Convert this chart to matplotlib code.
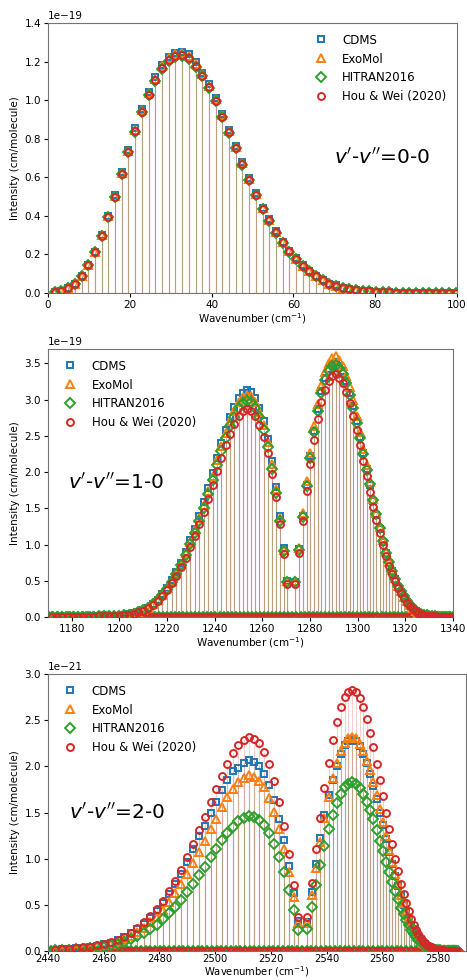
import matplotlib.pyplot as plt
import numpy as np

# ---- v'-v''=0-0 (units of 1e-19 cm/molecule) ----
pos_00 = [1.64, 3.28, 4.92, 6.56, 8.20, 9.84, 11.48, 13.12, 14.76, 16.40,
          18.04, 19.68, 21.32, 22.96, 24.60, 26.24, 27.88, 29.52, 31.16, 32.79,
          34.43, 36.07, 37.71, 39.35, 40.99, 42.62, 44.26, 45.90, 47.54, 49.17,
          50.81, 52.45, 54.08, 55.72, 57.35, 58.99, 60.62, 62.26, 63.89, 65.52,
          67.16, 68.79, 70.42, 72.05, 73.68, 75.31, 76.94, 78.57, 80.20, 81.83,
          83.46, 85.08, 86.71, 88.34, 89.96, 91.58, 93.21, 94.83, 96.45, 98.07, 99.69]
cdms_00 = [0.007, 0.012, 0.024, 0.049, 0.087, 0.145, 0.215, 0.302, 0.401, 0.508,
           0.626, 0.742, 0.853, 0.955, 1.044, 1.120, 1.183, 1.225, 1.247, 1.251,
           1.237, 1.196, 1.143, 1.082, 1.012, 0.928, 0.845, 0.763, 0.677, 0.595,
           0.517, 0.443, 0.382, 0.319, 0.266, 0.219, 0.179, 0.143, 0.114, 0.087,
           0.067, 0.049, 0.039, 0.028, 0.021, 0.016, 0.012, 0.009, 0.006, 0.005,
           0.003, 0.002, 0.0016, 0.001, 0.0008, 0.0006, 0.0004, 0.0003, 0.0002, 0.0002, 0.0001]
exomol_00 = [0.007, 0.012, 0.024, 0.048, 0.087, 0.144, 0.214, 0.300, 0.398, 0.504,
             0.622, 0.737, 0.847, 0.949, 1.037, 1.112, 1.175, 1.217, 1.239, 1.243,
             1.229, 1.187, 1.135, 1.075, 1.005, 0.921, 0.840, 0.758, 0.672, 0.591,
             0.513, 0.439, 0.379, 0.317, 0.264, 0.218, 0.177, 0.142, 0.113, 0.087,
             0.067, 0.048, 0.038, 0.028, 0.021, 0.016, 0.012, 0.009, 0.006, 0.005,
             0.003, 0.002, 0.0016, 0.001, 0.0008, 0.0006, 0.0004, 0.0003, 0.0002, 0.0002, 0.0001]
hitran_00 = [0.007, 0.012, 0.024, 0.048, 0.086, 0.143, 0.211, 0.297, 0.394, 0.499,
             0.615, 0.729, 0.837, 0.938, 1.026, 1.100, 1.162, 1.203, 1.225, 1.229,
             1.215, 1.174, 1.123, 1.063, 0.994, 0.911, 0.831, 0.750, 0.665, 0.584,
             0.507, 0.435, 0.375, 0.313, 0.261, 0.215, 0.175, 0.141, 0.112, 0.086,
             0.066, 0.048, 0.038, 0.028, 0.021, 0.016, 0.012, 0.009, 0.006, 0.005,
             0.003, 0.002, 0.0016, 0.001, 0.0008, 0.0006, 0.0004, 0.0003, 0.0002, 0.0002, 0.0001]
hou_00 = [0.007, 0.012, 0.024, 0.048, 0.086, 0.143, 0.212, 0.298, 0.395, 0.500,
          0.617, 0.731, 0.840, 0.941, 1.029, 1.103, 1.166, 1.207, 1.229, 1.233,
          1.219, 1.178, 1.126, 1.066, 0.997, 0.914, 0.833, 0.752, 0.667, 0.586,
          0.509, 0.436, 0.376, 0.314, 0.262, 0.216, 0.176, 0.141, 0.112, 0.086,
          0.066, 0.048, 0.038, 0.028, 0.021, 0.016, 0.012, 0.009, 0.006, 0.005,
          0.003, 0.002, 0.0016, 0.001, 0.0008, 0.0006, 0.0004, 0.0003, 0.0002, 0.0002, 0.0001]

# ---- v'-v''=1-0 (units of 1e-19 cm/molecule), P(52)..P(1) then R(0)..R(50) ----
pos_10_p = [1171.53, 1173.76, 1175.99, 1178.20, 1180.40, 1182.59, 1184.76, 1186.93, 1189.08, 1191.22,
            1193.35, 1195.47, 1197.58, 1199.67, 1201.76, 1203.83, 1205.89, 1207.93, 1209.97, 1211.99,
            1214.00, 1216.00, 1217.99, 1219.97, 1221.93, 1223.89, 1225.83, 1227.75, 1229.67, 1231.58,
            1233.47, 1235.35, 1237.22, 1239.08, 1240.93, 1242.76, 1244.59, 1246.40, 1248.20, 1249.99,
            1251.76, 1253.53, 1255.28, 1257.02, 1258.75, 1260.46, 1262.17, 1263.86, 1265.54, 1267.21,
            1268.87, 1270.52]
pos_10_r = [1273.77, 1275.38, 1276.98, 1278.57, 1280.14, 1281.71, 1283.26, 1284.80, 1286.33, 1287.84,
            1289.35, 1290.84, 1292.32, 1293.79, 1295.25, 1296.69, 1298.13, 1299.55, 1300.96, 1302.36,
            1303.74, 1305.12, 1306.48, 1307.83, 1309.17, 1310.50, 1311.81, 1313.12, 1314.41, 1315.69,
            1316.96, 1318.21, 1319.46, 1320.69, 1321.91, 1323.12, 1324.32, 1325.51, 1326.68, 1327.84,
            1328.99, 1330.13, 1331.26, 1332.37, 1333.48, 1334.57, 1335.65, 1336.71, 1337.77, 1338.82,
            1339.84]
cdms_10_p = [0.001, 0.002, 0.002, 0.002, 0.003, 0.003, 0.004, 0.005, 0.007, 0.008,
             0.010, 0.012, 0.015, 0.020, 0.026, 0.036, 0.050, 0.071, 0.095, 0.131,
             0.181, 0.240, 0.316, 0.403, 0.512, 0.621, 0.752, 0.894, 1.057, 1.221,
             1.395, 1.581, 1.777, 1.984, 2.202, 2.398, 2.583, 2.758, 2.899, 3.019,
             3.096, 3.128, 3.107, 3.030, 2.889, 2.703, 2.463, 2.147, 1.799, 1.395,
             0.948, 0.501]
cdms_10_r = [0.483, 0.935, 1.397, 1.827, 2.216, 2.573, 2.867, 3.119, 3.297, 3.423,
             3.497, 3.518, 3.465, 3.392, 3.255, 3.098, 2.919, 2.709, 2.489, 2.268,
             2.048, 1.817, 1.596, 1.407, 1.218, 1.040, 0.882, 0.746, 0.630, 0.525,
             0.420, 0.347, 0.273, 0.210, 0.158, 0.116, 0.084, 0.058, 0.042, 0.029,
             0.021, 0.015, 0.011, 0.007, 0.005, 0.004, 0.003, 0.002, 0.002, 0.001, 0.001]
exomol_10_p = [0.001, 0.002, 0.002, 0.002, 0.003, 0.003, 0.004, 0.005, 0.006, 0.007,
               0.010, 0.012, 0.015, 0.019, 0.026, 0.035, 0.049, 0.070, 0.093, 0.128,
               0.178, 0.235, 0.310, 0.396, 0.503, 0.610, 0.738, 0.877, 1.038, 1.198,
               1.370, 1.552, 1.744, 1.947, 2.161, 2.354, 2.536, 2.707, 2.846, 2.964,
               3.039, 3.071, 3.050, 2.975, 2.836, 2.654, 2.418, 2.108, 1.766, 1.370,
               0.931, 0.492]
exomol_10_r = [0.495, 0.957, 1.430, 1.871, 2.268, 2.634, 2.935, 3.193, 3.376, 3.505,
               3.580, 3.601, 3.548, 3.472, 3.333, 3.171, 2.989, 2.774, 2.548, 2.322,
               2.096, 1.860, 1.634, 1.441, 1.247, 1.064, 0.903, 0.763, 0.645, 0.538,
               0.430, 0.355, 0.280, 0.215, 0.161, 0.118, 0.086, 0.059, 0.043, 0.030,
               0.022, 0.015, 0.011, 0.008, 0.005, 0.004, 0.003, 0.002, 0.002, 0.001, 0.001]
hitran_10_p = [0.001, 0.002, 0.002, 0.002, 0.003, 0.003, 0.004, 0.005, 0.006, 0.007,
               0.009, 0.011, 0.015, 0.019, 0.025, 0.034, 0.048, 0.068, 0.090, 0.125,
               0.173, 0.229, 0.302, 0.385, 0.489, 0.593, 0.718, 0.853, 1.009, 1.165,
               1.331, 1.508, 1.695, 1.893, 2.101, 2.288, 2.465, 2.631, 2.766, 2.881,
               2.954, 2.985, 2.964, 2.891, 2.756, 2.579, 2.350, 2.049, 1.716, 1.331,
               0.905, 0.478]
hitran_10_r = [0.478, 0.926, 1.383, 1.810, 2.194, 2.548, 2.839, 3.089, 3.266, 3.390,
               3.463, 3.484, 3.432, 3.359, 3.224, 3.068, 2.891, 2.683, 2.465, 2.246,
               2.028, 1.834, 1.611, 1.420, 1.230, 1.049, 0.890, 0.753, 0.636, 0.530,
               0.424, 0.363, 0.286, 0.220, 0.165, 0.121, 0.088, 0.061, 0.044, 0.031,
               0.022, 0.017, 0.012, 0.008, 0.006, 0.005, 0.004, 0.002, 0.002, 0.001, 0.001]
hou_10_p = [0.001, 0.002, 0.002, 0.002, 0.003, 0.003, 0.004, 0.005, 0.006, 0.007,
            0.009, 0.011, 0.014, 0.018, 0.024, 0.033, 0.046, 0.065, 0.087, 0.120,
            0.166, 0.220, 0.290, 0.370, 0.470, 0.570, 0.690, 0.820, 0.970, 1.120,
            1.280, 1.450, 1.630, 1.820, 2.020, 2.200, 2.370, 2.530, 2.660, 2.770,
            2.840, 2.870, 2.850, 2.780, 2.650, 2.480, 2.260, 1.970, 1.650, 1.280,
            0.870, 0.460]
hou_10_r = [0.460, 0.890, 1.330, 1.740, 2.110, 2.450, 2.730, 2.970, 3.140, 3.260,
            3.330, 3.350, 3.300, 3.230, 3.100, 2.950, 2.780, 2.580, 2.370, 2.160,
            1.950, 1.730, 1.520, 1.340, 1.160, 0.990, 0.840, 0.710, 0.600, 0.500,
            0.400, 0.330, 0.260, 0.200, 0.150, 0.110, 0.080, 0.055, 0.040, 0.028,
            0.020, 0.014, 0.010, 0.007, 0.005, 0.004, 0.003, 0.002, 0.002, 0.001, 0.001]
# very weak (hot band) lines sitting on the baseline
weak_10 = [1170.6, 1172.3, 1174.0, 1175.7, 1177.4, 1179.1, 1180.8, 1182.5, 1184.2, 1185.9,
           1187.6, 1189.3, 1191.0, 1192.7, 1194.4, 1196.1, 1197.8, 1199.5, 1201.2, 1202.9,
           1204.6, 1206.3, 1208.0, 1209.7, 1211.4, 1213.1, 1214.8, 1216.5, 1218.2, 1219.9,
           1221.6, 1223.3, 1225.0, 1226.7, 1228.4, 1230.1, 1231.8, 1233.5, 1235.2, 1236.9,
           1238.6, 1240.3, 1242.0, 1243.7, 1245.4, 1247.1, 1248.8, 1250.5, 1252.2, 1253.9,
           1255.6, 1257.3, 1259.0, 1260.7, 1262.4, 1264.1, 1265.8, 1267.5, 1269.2, 1270.9,
           1272.6, 1274.3, 1276.0, 1277.7, 1279.4, 1281.1, 1282.8, 1284.5, 1286.2, 1287.9,
           1289.6, 1291.3, 1293.0, 1294.7, 1296.4, 1298.1, 1299.8, 1301.5, 1303.2, 1304.9,
           1306.6, 1308.3, 1310.0, 1311.7, 1313.4, 1315.1, 1316.8, 1318.5, 1320.2, 1321.9,
           1323.6, 1325.3, 1327.0, 1328.7, 1330.4, 1332.1, 1333.8, 1335.5, 1337.2, 1338.9]

# ---- v'-v''=2-0 (units of 1e-21 cm/molecule), P(42)..P(1) then R(0)..R(60) ----
pos_20_p = [2442.44, 2445.05, 2447.62, 2450.18, 2452.71, 2455.22, 2457.70, 2460.16, 2462.60, 2465.01,
            2467.40, 2469.77, 2472.11, 2474.43, 2476.72, 2478.99, 2481.24, 2483.47, 2485.67, 2487.84,
            2490.00, 2492.13, 2494.23, 2496.31, 2498.37, 2500.41, 2502.42, 2504.41, 2506.37, 2508.31,
            2510.23, 2512.13, 2514.00, 2515.84, 2517.67, 2519.47, 2521.24, 2522.99, 2524.72, 2526.43,
            2528.11, 2529.77]
pos_20_r = [2533.01, 2534.60, 2536.16, 2537.70, 2539.22, 2540.71, 2542.18, 2543.62, 2545.05, 2546.44,
            2547.82, 2549.17, 2550.50, 2551.80, 2553.08, 2554.34, 2555.57, 2556.78, 2557.97, 2559.13,
            2560.27, 2561.38, 2562.47, 2563.54, 2564.59, 2565.61, 2566.60, 2567.58, 2568.53, 2569.45,
            2570.35, 2571.23, 2572.09, 2572.92, 2573.73, 2574.51, 2575.27, 2576.01, 2576.73, 2577.42,
            2578.08, 2578.73, 2579.35, 2579.94, 2580.51, 2581.06, 2581.59, 2582.09, 2582.57, 2583.02,
            2583.45, 2583.86, 2584.24, 2584.60, 2584.94, 2585.25, 2585.54, 2585.80, 2586.05, 2586.26,
            2586.46]
cdms_20_p = [0.014, 0.018, 0.023, 0.029, 0.036, 0.046, 0.057, 0.071, 0.090, 0.114,
             0.147, 0.190, 0.238, 0.295, 0.361, 0.432, 0.518, 0.618, 0.722, 0.836,
             0.969, 1.102, 1.245, 1.349, 1.497, 1.610, 1.748, 1.857, 1.947, 1.985,
             2.038, 2.065, 2.047, 2.003, 1.922, 1.798, 1.638, 1.433, 1.202, 0.924,
             0.625, 0.321]
cdms_20_r = [0.314, 0.636, 0.946, 1.224, 1.478, 1.693, 1.855, 2.009, 2.138, 2.228,
             2.276, 2.292, 2.276, 2.219, 2.138, 2.033, 1.912, 1.790, 1.644, 1.499,
             1.361, 1.215, 1.069, 0.940, 0.810, 0.705, 0.591, 0.502, 0.421, 0.348,
             0.284, 0.235, 0.193, 0.151, 0.122, 0.092, 0.071, 0.055, 0.042, 0.032,
             0.024, 0.018, 0.014, 0.011, 0.008, 0.007, 0.005, 0.004, 0.003, 0.0025,
             0.002, 0.0017, 0.0013, 0.001, 0.0008, 0.0007, 0.0005, 0.0004, 0.0003, 0.0003, 0.0002]
exomol_20_p = [0.012, 0.016, 0.020, 0.025, 0.031, 0.039, 0.049, 0.062, 0.078, 0.098,
               0.127, 0.164, 0.205, 0.254, 0.312, 0.373, 0.447, 0.533, 0.623, 0.722,
               0.836, 0.951, 1.074, 1.189, 1.320, 1.435, 1.558, 1.665, 1.755, 1.829,
               1.878, 1.902, 1.886, 1.845, 1.771, 1.656, 1.509, 1.320, 1.107, 0.861,
               0.582, 0.299]
exomol_20_r = [0.299, 0.607, 0.902, 1.181, 1.443, 1.673, 1.878, 2.034, 2.165, 2.255,
               2.304, 2.321, 2.304, 2.247, 2.165, 2.058, 1.959, 1.834, 1.685, 1.536,
               1.394, 1.245, 1.096, 0.963, 0.830, 0.722, 0.606, 0.515, 0.432, 0.357,
               0.291, 0.232, 0.191, 0.149, 0.120, 0.091, 0.071, 0.054, 0.042, 0.032,
               0.024, 0.018, 0.014, 0.011, 0.008, 0.007, 0.005, 0.004, 0.003, 0.0025,
               0.002, 0.0017, 0.0012, 0.001, 0.0008, 0.0007, 0.0005, 0.0004, 0.0003, 0.0002, 0.0002]
hitran_20_p = [0.009, 0.012, 0.015, 0.019, 0.024, 0.030, 0.038, 0.047, 0.060, 0.076,
               0.098, 0.126, 0.158, 0.195, 0.239, 0.287, 0.343, 0.410, 0.479, 0.554,
               0.643, 0.731, 0.825, 0.914, 1.014, 1.103, 1.197, 1.279, 1.348, 1.405,
               1.443, 1.462, 1.449, 1.418, 1.361, 1.273, 1.159, 1.014, 0.851, 0.662,
               0.447, 0.230]
hitran_20_r = [0.235, 0.477, 0.710, 0.929, 1.135, 1.316, 1.477, 1.600, 1.703, 1.774,
               1.812, 1.825, 1.812, 1.767, 1.703, 1.619, 1.522, 1.425, 1.309, 1.193,
               1.084, 0.968, 0.851, 0.748, 0.645, 0.561, 0.471, 0.400, 0.335, 0.277,
               0.226, 0.181, 0.148, 0.116, 0.094, 0.071, 0.055, 0.042, 0.032, 0.025,
               0.019, 0.014, 0.011, 0.008, 0.006, 0.005, 0.004, 0.003, 0.0026, 0.002,
               0.0016, 0.0013, 0.001, 0.0008, 0.0006, 0.0005, 0.0004, 0.0003, 0.0003, 0.0002, 0.0001]
hou_20_p = [0.015, 0.019, 0.024, 0.030, 0.038, 0.048, 0.060, 0.075, 0.095, 0.120,
            0.155, 0.200, 0.250, 0.310, 0.380, 0.455, 0.545, 0.650, 0.760, 0.880,
            1.020, 1.160, 1.310, 1.450, 1.610, 1.750, 1.900, 2.030, 2.140, 2.230,
            2.290, 2.320, 2.300, 2.250, 2.160, 2.020, 1.840, 1.610, 1.350, 1.050,
            0.710, 0.365]
hou_20_r = [0.365, 0.740, 1.100, 1.440, 1.760, 2.040, 2.290, 2.480, 2.640, 2.750,
            2.810, 2.830, 2.810, 2.740, 2.640, 2.510, 2.360, 2.210, 2.030, 1.850,
            1.680, 1.500, 1.320, 1.160, 1.000, 0.870, 0.730, 0.620, 0.520, 0.430,
            0.350, 0.280, 0.230, 0.180, 0.145, 0.110, 0.085, 0.065, 0.050, 0.038,
            0.029, 0.022, 0.017, 0.013, 0.010, 0.008, 0.006, 0.005, 0.004, 0.003,
            0.0025, 0.002, 0.0015, 0.0012, 0.001, 0.0008, 0.0006, 0.0005, 0.0004, 0.0003, 0.0002]
weak_20 = [2441.0, 2442.7, 2444.4, 2446.1, 2447.8, 2449.5, 2451.2, 2452.9, 2454.6, 2456.3,
           2458.0, 2459.7, 2461.4, 2463.1, 2464.8, 2466.5, 2468.2, 2469.9, 2471.6, 2473.3,
           2475.0, 2476.7, 2478.4, 2480.1, 2481.8, 2483.5, 2485.2, 2486.9, 2488.6, 2490.3,
           2492.0, 2493.7, 2495.4, 2497.1, 2498.8, 2500.5, 2502.2, 2503.9, 2505.6, 2507.3,
           2509.0, 2510.7, 2512.4, 2514.1, 2515.8, 2517.5, 2519.2, 2520.9, 2522.6, 2524.3,
           2526.0, 2527.7, 2529.4, 2531.1, 2532.8, 2534.5, 2536.2, 2537.9, 2539.6, 2541.3,
           2543.0, 2544.7, 2546.4, 2548.1, 2549.8, 2551.5, 2553.2, 2554.9, 2556.6, 2558.3,
           2560.0, 2561.7, 2563.4, 2565.1, 2566.8, 2568.5, 2570.2, 2571.9, 2573.6, 2575.3,
           2577.0, 2578.7, 2580.4, 2582.1, 2583.8, 2585.5, 2587.2]

labels = ['CDMS', 'ExoMol', 'HITRAN2016', 'Hou & Wei (2020)']
colors = ['tab:blue', 'tab:orange', 'tab:green', 'tab:red']
markers = ['s', '^', 'D', 'o']
msizes = [4.8, 5.2, 4.6, 5.0]

W, H = 467, 980
fig = plt.figure(figsize=(W / 100, H / 100), dpi=100)


def rect(l, r, t, b):
    return [l / W, 1 - b / H, (r - l) / W, (b - t) / H]


def panel(ax, pos, series, scale, weak, xlim, ylim, yticks, band, leg_loc, txt_x):
    x = np.array(pos)
    for ys, c in zip(series, colors):
        ax.vlines(x, 0, np.array(ys) * scale, color=c, alpha=0.22, lw=0.8, zorder=1)
    if weak is not None:
        for i in (1, 2, 3):
            ax.plot(weak, np.zeros(len(weak)), ls='none', marker=markers[i], ms=msizes[i],
                    mfc='none', mec=colors[i], mew=1.4, zorder=2)
    for ys, c, m, s, lab in zip(series, colors, markers, msizes, labels):
        ax.plot(x, np.array(ys) * scale, ls='none', marker=m, ms=s, mfc='none',
                mec=c, mew=1.4, label=lab, zorder=3)
    ax.set_xlim(*xlim)
    ax.set_ylim(0, ylim)
    ax.set_yticks(np.array(yticks) * scale)
    ax.set_ylabel('Intensity (cm/molecule)', fontsize=7.5, labelpad=3)
    ax.tick_params(labelsize=7.5, length=3, pad=2)
    ax.yaxis.get_offset_text().set_fontsize(7.5)
    for sp in ax.spines.values():
        sp.set_color('0.45')
    ax.legend(loc=leg_loc, frameon=False, fontsize=8.5, handletextpad=0.8)
    ax.text(txt_x, 0.5, r"$v'$-$v''$=" + band, transform=ax.transAxes,
            fontsize=14.5, va='center')


ax1 = fig.add_axes(rect(48, 457, 23, 293))
panel(ax1, pos_00, [cdms_00, exomol_00, hitran_00, hou_00], 1e-19, None,
      (0, 100), 1.4e-19, [0, 0.2, 0.4, 0.6, 0.8, 1.0, 1.2, 1.4], '0-0', 'upper right', 0.70)
ax1.set_xlabel('Wavenumber (cm$^{-1}$)', fontsize=7.5, labelpad=1)

ax2 = fig.add_axes(rect(48, 453, 349, 617))
panel(ax2, pos_10_p + pos_10_r,
      [cdms_10_p + cdms_10_r, exomol_10_p + exomol_10_r,
       hitran_10_p + hitran_10_r, hou_10_p + hou_10_r],
      1e-19, weak_10, (1170, 1340), 3.7e-19, [0, 0.5, 1.0, 1.5, 2.0, 2.5, 3.0, 3.5],
      '1-0', 'upper left', 0.05)
ax2.set_xlabel('Wavenumber (cm$^{-1}$)', fontsize=7.5, labelpad=1)

ax3 = fig.add_axes(rect(48, 466, 674, 951))
panel(ax3, pos_20_p + pos_20_r,
      [cdms_20_p + cdms_20_r, exomol_20_p + exomol_20_r,
       hitran_20_p + hitran_20_r, hou_20_p + hou_20_r],
      1e-21, weak_20, (2440, 2590), 3.0e-21, [0, 0.5, 1.0, 1.5, 2.0, 2.5, 3.0],
      '2-0', 'upper left', 0.05)
ax3.tick_params(axis='x', length=2, pad=0.5, labelsize=7.2)
ax3.set_xlabel('Wavenumber (cm$^{-1}$)', fontsize=7.2, labelpad=0)

fig.savefig('out.png', dpi=100)
